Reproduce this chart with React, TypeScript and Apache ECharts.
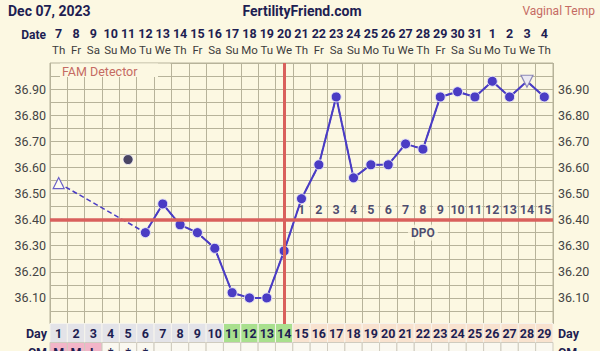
import { useEffect, useRef } from "react";
import * as echarts from "echarts";

const days = ["1","2","3","4","5","6","7","8","9","10","11","12","13","14","15","16","17","18","19","20","21","22","23","24","25","26","27","28","29"];
const dates = ["7","8","9","10","11","12","13","14","15","16","17","18","19","20","21","22","23","24","25","26","27","28","29","30","31","1","2","3","4"];
const weekdays = ["Th","Fr","Sa","Su","Mo","Tu","We","Th","Fr","Sa","Su","Mo","Tu","We","Th","Fr","Sa","Su","Mo","Tu","We","Th","Fr","Sa","Su","Mo","Tu","We","Th"];
const temps: (number | null)[] = [36.54, null, null, null, null, 36.35, 36.46, 36.38, 36.35, 36.29, 36.12, 36.10, 36.10, 36.28, 36.48, 36.61, 36.87, 36.56, 36.61, 36.61, 36.69, 36.67, 36.87, 36.89, 36.87, 36.93, 36.87, 36.93, 36.87];
const discardedDay = "5";
const discardedTemp = 36.63;
const openUpDays = ["1"];
const openDownDays = ["28"];
const cervicalMucus = ["M","M","L","*","*","*","","","","","","","","","","","","","","","","","","","","","","",""];
const fertileDays = ["11","12","13","14"];
const ovulationDay = 14;
const coverline = 36.4;
const dpoTag = { day: "22", temp: 36.35, text: "DPO" };
const rowNames = ["Day", "CM"];

const CREAM = "#fcf8e2";
const GRID = "#b7b39a";
const PURPLE = "#4a3cc4";
const NAVY = "#1e1e52";
const RED = "#d9605c";
const SALMON = "#c56b63";
const FONT = "Roboto, 'Noto Sans', sans-serif";

function dayColor(d: string) {
  const n = Number(d);
  if (fertileDays.includes(d)) return "#a9e08e";
  if (n > ovulationDay) return "#f8e2cf";
  return "#e3e3e8";
}
function cmColor(c: string) {
  if (c === "M" || c === "L") return "#f2b5c8";
  return "#faf8f0";
}

export default function App() {
  const ref = useRef<HTMLDivElement>(null);
  useEffect(() => {
    if (!ref.current) return;
    const chart = echarts.init(ref.current, undefined, { renderer: "svg" });

    const cells: { x: number; y: number; text: string; fill: string; stroke: string }[] = [];
    days.forEach((d, i) => {
      cells.push({ x: i, y: 0, text: d, fill: dayColor(d), stroke: "#f6f4ec" });
      cells.push({ x: i, y: 1, text: cervicalMucus[i], fill: cmColor(cervicalMucus[i]), stroke: "#cfcbbf" });
    });

    const lineData = temps.map((t, i) => {
      const d = days[i];
      if (t === null) return null;
      if (openUpDays.includes(d)) {
        return { value: t, symbol: "triangle", symbolSize: 11, itemStyle: { color: "#fffdf2", borderColor: "#6a60c8", borderWidth: 1.2 } };
      }
      if (openDownDays.includes(d)) {
        return { value: t, symbol: "triangle", symbolRotate: 180, symbolSize: 12, itemStyle: { color: "#ebe9f2", borderColor: "#8a86b8", borderWidth: 1.2 } };
      }
      return t;
    });

    const yLabel = (v: number) => {
      const r = Math.round(v * 100);
      if (r % 10 !== 0 || r === 3600 || r === 3700) return "";
      return v.toFixed(2);
    };

    chart.setOption({
      animation: false,
      backgroundColor: CREAM,
      grid: [
        { left: 50, right: 47, top: 63, bottom: 27, show: true, backgroundColor: CREAM, borderColor: GRID, borderWidth: 1, outerBoundsMode: "none", containLabel: false },
        { left: 50, right: 47, top: 323.5, height: 38, outerBoundsMode: "none", containLabel: false },
      ],
      xAxis: [
        {
          type: "category", data: days, gridIndex: 0,
          axisLabel: { show: false }, axisTick: { show: false }, axisLine: { show: false },
          splitLine: { show: true, interval: 0, lineStyle: { color: GRID, width: 1 } },
        },
        {
          type: "category", data: dates, gridIndex: 0, position: "top",
          axisLine: { show: false }, axisTick: { show: false }, splitLine: { show: false },
          axisLabel: { interval: 0, margin: 30, verticalAlign: "middle", color: NAVY, fontWeight: "bold", fontSize: 12.5, fontFamily: FONT },
        },
        {
          type: "category", data: weekdays, gridIndex: 0, position: "top",
          axisLine: { show: false }, axisTick: { show: false }, splitLine: { show: false },
          axisLabel: { interval: 0, margin: 13, verticalAlign: "middle", color: "#3c3c3c", fontSize: 11.5, fontFamily: FONT },
        },
        {
          type: "category", data: days, gridIndex: 1, show: false,
        },
      ],
      yAxis: [
        {
          type: "value", min: 36, max: 37, interval: 0.05, gridIndex: 0, position: "left",
          axisLine: { show: false }, axisTick: { show: false },
          splitLine: { show: true, lineStyle: { color: GRID, width: 1 } },
          axisLabel: { formatter: yLabel, margin: 4, color: "#444", fontSize: 12.5, fontFamily: FONT },
        },
        {
          type: "value", min: 36, max: 37, interval: 0.05, gridIndex: 0, position: "right",
          axisLine: { show: false }, axisTick: { show: false }, splitLine: { show: false },
          axisLabel: { formatter: yLabel, margin: 5, color: "#444", fontSize: 12.5, fontFamily: FONT },
        },
        {
          type: "category", data: rowNames, gridIndex: 1, inverse: true, position: "left",
          axisLine: { show: false }, axisTick: { show: false }, splitLine: { show: false },
          axisLabel: { margin: 3, color: NAVY, fontWeight: "bold", fontSize: 12.5, fontFamily: FONT },
        },
        {
          type: "category", data: rowNames, gridIndex: 1, inverse: true, position: "right",
          axisLine: { show: false }, axisTick: { show: false }, splitLine: { show: false },
          axisLabel: { margin: 5, color: NAVY, fontWeight: "bold", fontSize: 12.5, fontFamily: FONT },
        },
      ],
      series: [
        {
          type: "line", xAxisIndex: 0, yAxisIndex: 0, data: [], z: 1, silent: true,
          markLine: {
            silent: true, symbol: "none", label: { show: false },
            data: [
              { yAxis: coverline, lineStyle: { color: RED, width: 3.5, type: "solid" } },
              { xAxis: String(ovulationDay), lineStyle: { color: RED, width: 3, type: "solid" } },
            ],
          },
        },
        {
          type: "scatter", xAxisIndex: 0, yAxisIndex: 0, z: 2, silent: true,
          symbolSize: 1, itemStyle: { color: "rgba(0,0,0,0)" },
          data: days.filter((d) => Number(d) > ovulationDay).map((d) => [d, coverline]),
          label: {
            show: true, position: "top", distance: 3,
            formatter: (p: any) => String(Number(p.value[0]) - ovulationDay),
            color: NAVY, fontWeight: "bold", fontSize: 12.5, fontFamily: FONT,
            backgroundColor: CREAM, width: 15, height: 13, lineHeight: 13, align: "center", padding: 0,
          },
        },
        {
          type: "scatter", xAxisIndex: 0, yAxisIndex: 0, z: 2, silent: true,
          symbolSize: 1, itemStyle: { color: "rgba(0,0,0,0)" },
          data: [[dpoTag.day, dpoTag.temp]],
          label: {
            show: true, position: "inside", formatter: dpoTag.text,
            color: NAVY, fontWeight: "bold", fontSize: 12, fontFamily: FONT,
            backgroundColor: CREAM, padding: [2, 3],
          },
        },
        {
          type: "line", xAxisIndex: 0, yAxisIndex: 0, z: 3, data: temps, connectNulls: true,
          showSymbol: false, symbol: "none",
          lineStyle: { color: PURPLE, width: 1.5, type: [5, 3] },
        },
        {
          type: "line", xAxisIndex: 0, yAxisIndex: 0, z: 4, data: lineData, connectNulls: false,
          symbol: "circle", symbolSize: 10, showSymbol: true,
          lineStyle: { color: PURPLE, width: 2 },
          itemStyle: { color: PURPLE, borderColor: "#e6e4f6", borderWidth: 1 },
        },
        {
          type: "scatter", xAxisIndex: 0, yAxisIndex: 0, z: 4,
          data: [[discardedDay, discardedTemp]], symbolSize: 10,
          itemStyle: { color: "#1c1845", borderColor: "#f4f2ff", borderWidth: 1 },
        },
        {
          type: "custom", xAxisIndex: 3, yAxisIndex: 2, silent: true,
          data: cells.map((c) => [c.x, c.y]),
          renderItem: (params: any, api: any) => {
            const c = cells[params.dataIndex];
            const p = api.coord([api.value(0), api.value(1)]);
            const s = api.size([1, 1]);
            return {
              type: "group",
              children: [
                {
                  type: "rect",
                  shape: { x: p[0] - s[0] / 2, y: p[1] - s[1] / 2, width: s[0], height: s[1] },
                  style: { fill: c.fill, stroke: c.stroke, lineWidth: 1 },
                },
                {
                  type: "text",
                  style: {
                    text: c.text, x: p[0], y: p[1], align: "center", verticalAlign: "middle",
                    fill: NAVY, font: `bold 12.5px ${FONT}`,
                  },
                },
              ],
            };
          },
        },
      ],
      graphic: [
        { type: "rect", shape: { x: 51, y: 63.5, width: 119.5, height: 12 }, style: { fill: CREAM }, z: 50 },
        { type: "rect", shape: { x: 60, y: 63.5, width: 98, height: 13.5 }, style: { fill: CREAM }, z: 50 },
        { type: "text", x: 62, y: 71, z: 51, style: { text: "FAM Detector", fill: SALMON, font: `12.5px ${FONT}`, verticalAlign: "middle" } },
        { type: "text", x: 8, y: 11, style: { text: "Dec 07, 2023", fill: NAVY, font: `bold 14px ${FONT}`, verticalAlign: "middle" } },
        { type: "text", x: 302, y: 11, style: { text: "FertilityFriend.com", fill: NAVY, font: `bold 14px ${FONT}`, align: "center", verticalAlign: "middle" } },
        { type: "text", x: 595, y: 11, style: { text: "Vaginal Temp", fill: SALMON, font: `12px ${FONT}`, align: "right", verticalAlign: "middle" } },
        { type: "text", x: 46, y: 35, style: { text: "Date", fill: NAVY, font: `bold 12px ${FONT}`, align: "right", verticalAlign: "middle" } },
      ],
    });
    return () => chart.dispose();
  }, []);
  return <div ref={ref} style={{ position: "fixed", left: 0, top: 0, width: 600, height: 351, background: CREAM }} />;
}
